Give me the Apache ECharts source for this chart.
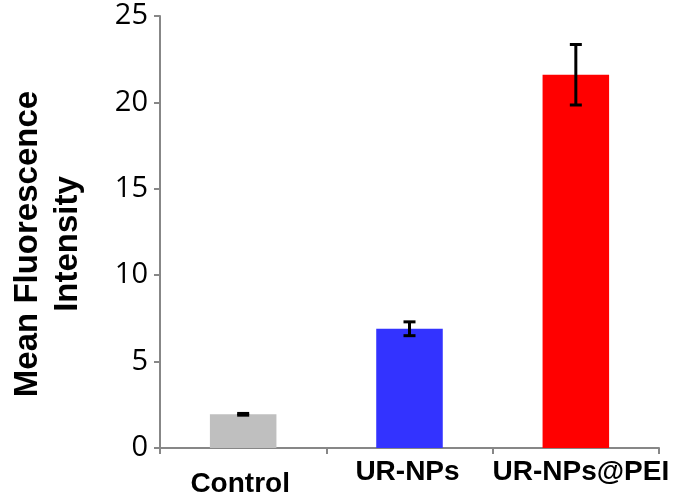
<!DOCTYPE html>
<html>
<head>
<meta charset="utf-8">
<script src="https://cdn.jsdelivr.net/npm/echarts@6/dist/echarts.min.js"></script>
<style>html,body{margin:0;padding:0;background:#fff;}#c{width:680px;height:498px;}</style>
</head>
<body>
<div id="c"></div>
<script>
var categories = ['Control', 'UR-NPs', 'UR-NPs@PEI'];
var values = [1.95, 6.9, 21.6];
var errors = [0.05, 0.4, 1.75];
var colors = ['#BFBFBF', '#3333FF', '#FF0000'];
var yTicks = { min: 0, max: 25, interval: 5 };

var chart = echarts.init(document.getElementById('c'), null, { renderer: 'canvas' });
var axisGray = '#878787';

chart.setOption({
  animation: false,
  backgroundColor: '#ffffff',
  grid: { left: 160, right: 21, top: 16, bottom: 47, containLabel: false },
  xAxis: {
    type: 'category',
    data: categories.map(function (c, i) {
      return { value: c, textStyle: { padding: i === 0 ? [12, 6, 0, 0] : (i === 2 ? [0, 0, 0, 10] : [0, 4, 0, 0]) } };
    }),
    axisLine: { lineStyle: { color: axisGray, width: 2 } },
    axisTick: { show: true, alignWithLabel: false, length: 6, lineStyle: { color: axisGray, width: 2 } },
    axisLabel: {
      color: '#000', fontFamily: 'Liberation Sans, Arial, sans-serif', fontWeight: 'bold',
      fontSize: 28, margin: 10, interval: 0
    },
    splitLine: { show: false }
  },
  yAxis: {
    type: 'value',
    min: yTicks.min, max: yTicks.max, interval: yTicks.interval,
    name: 'Mean Fluorescence\nIntensity',
    nameLocation: 'middle',
    nameGap: 72,
    nameTextStyle: {
      color: '#000', fontFamily: 'Liberation Sans, Arial, sans-serif', fontWeight: 'bold',
      fontSize: 33, lineHeight: 40, padding: [0, 24, 0, 0]
    },
    axisLine: { show: true, lineStyle: { color: axisGray, width: 2 } },
    axisTick: { show: true, length: 6, lineStyle: { color: axisGray, width: 2 } },
    axisLabel: {
      color: '#000', fontFamily: 'Open Sans, sans-serif', fontSize: 29, margin: 12,
      padding: [10, 0, 0, 0]
    },
    splitLine: { show: false }
  },
  series: [
    {
      type: 'bar',
      barWidth: '40%',
      data: values.map(function (v, i) { return { value: v, itemStyle: { color: colors[i] } }; }),
      z: 2
    },
    {
      type: 'custom',
      z: 5,
      data: values.map(function (v, i) { return [i, v - errors[i], v + errors[i]]; }),
      renderItem: function (params, api) {
        var x = api.value(0);
        var lo = api.coord([x, api.value(1)]);
        var hi = api.coord([x, api.value(2)]);
        var half = 6;
        var style = { stroke: '#000', lineWidth: 3 };
        return {
          type: 'group',
          children: [
            { type: 'line', shape: { x1: hi[0], y1: hi[1], x2: lo[0], y2: lo[1] }, style: style },
            { type: 'line', shape: { x1: hi[0] - half, y1: hi[1], x2: hi[0] + half, y2: hi[1] }, style: style },
            { type: 'line', shape: { x1: lo[0] - half, y1: lo[1], x2: lo[0] + half, y2: lo[1] }, style: style }
          ]
        };
      }
    }
  ]
});
</script>
</body>
</html>
